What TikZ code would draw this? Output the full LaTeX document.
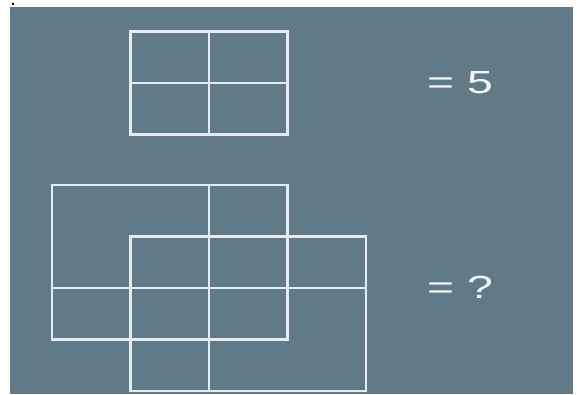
\documentclass[tikz,border=0pt]{standalone}
\usepackage{tikz}
\usepackage{xcolor}
\usepackage{fontspec}
\setmainfont{Liberation Sans}
\usetikzlibrary{positioning}
\definecolor{Panel_Slate}{HTML}{607B87}
\definecolor{Line_White}{HTML}{E4ECEF}
\definecolor{Text_White}{HTML}{F2F5F6}

\begin{document}
\begin{tikzpicture}[x=1pt, y=-1pt,
    gridline/.style={Line_White, line width=2.2pt},
    eqlabel/.style={Text_White, font=\fontsize{32}{36}\selectfont, inner sep=0, anchor=base west}]
    % Page and panel
    \useasboundingbox (0,0) rectangle (577,394);
    \fill[Panel_Slate] (10,7) rectangle (573,394);
    \node[font=\Large\bfseries, inner sep=0, anchor=base] (dot) at (13,5) {.};

    % Upper figure: 2 x 2 grid
    \draw[gridline] (130.5,31.5) rectangle (287.5,134.5);
    \draw[gridline] (209,31.5) -- (209,134.5);
    \draw[gridline] (130.5,83) -- (287.5,83);

    % Lower figure: two overlapping 3 x 3 grids
    \draw[gridline] (52,185) rectangle (287.5,339.5);
    \draw[gridline] (130.5,236.5) rectangle (366,391);
    \draw[gridline] (209,185) -- (209,391);
    \draw[gridline] (52,288) -- (366,288);

    % Labels
    \node[eqlabel] (eqfive) at (427,93) {\scalebox{1.45}[1]{= 5}};
    \node[eqlabel] (eqquery) at (427,298) {\scalebox{1.45}[1]{= ?}};
\end{tikzpicture}
\end{document}
